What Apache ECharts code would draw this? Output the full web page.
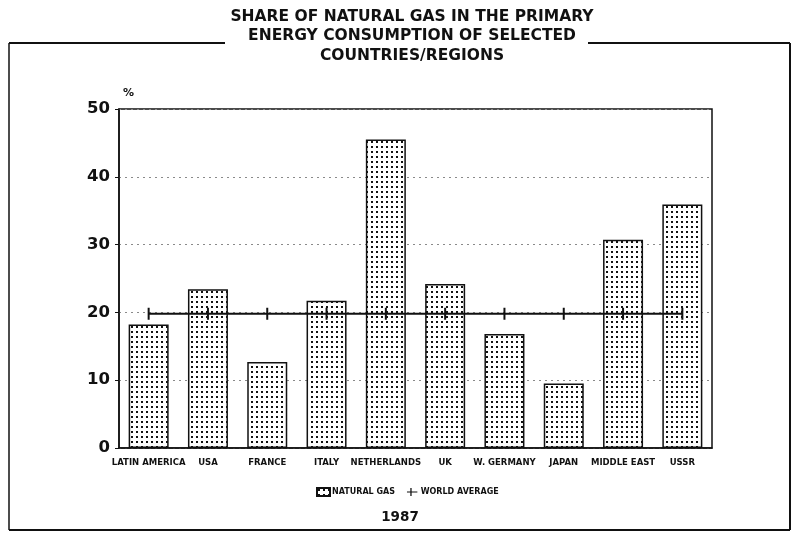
<!DOCTYPE html>
<html>
<head>
<meta charset="utf-8">
<script src="https://cdn.jsdelivr.net/npm/echarts@6/dist/echarts.min.js"></script>
<style>
  html, body { margin: 0; padding: 0; background: #fff; }
  #chart { width: 793px; height: 537px; }
</style>
</head>
<body>
<div id="chart"></div>
<script>
// Share of natural gas in primary energy consumption, 1987 (%)
const categories = ['LATIN AMERICA', 'USA', 'FRANCE', 'ITALY', 'NETHERLANDS', 'UK', 'W. GERMANY', 'JAPAN', 'MIDDLE EAST', 'USSR'];
const naturalGas = [18.2, 23.4, 12.7, 21.7, 45.5, 24.2, 16.8, 9.5, 30.7, 35.9];
const worldAverage = [19.8, 19.8, 19.8, 19.8, 19.8, 19.8, 19.8, 19.8, 19.8, 19.8];
const yTicks = { min: 0, max: 50, interval: 10 };

// dotted screen fill for the bars
function dotPattern() {
  const c = document.createElement('canvas');
  c.width = 5; c.height = 5;
  const g = c.getContext('2d');
  g.fillStyle = '#fff';
  g.fillRect(0, 0, 5, 5);
  g.fillStyle = '#111';
  g.fillRect(1, 1, 2, 2);
  return c;
}
const pattern = { image: dotPattern(), repeat: 'repeat' };

const FONT = 'DejaVu Sans, Liberation Sans, sans-serif';
const chart = echarts.init(document.getElementById('chart'), null, { renderer: 'canvas' });

chart.setOption({
  backgroundColor: '#fff',
  animation: false,
  grid: {
    left: 119, right: 81, top: 109, bottom: 89,
    show: true, borderColor: '#111', borderWidth: 1.5, backgroundColor: 'transparent'
  },
  legend: {
    bottom: 35,
    left: 311,
    itemWidth: 13, itemHeight: 8, itemGap: 12,
    textStyle: { fontFamily: FONT, fontSize: 8, fontWeight: 'bold', color: '#111', padding: [0, 0, 0, -3] },
    data: [
      { name: 'NATURAL GAS', icon: 'rect' },
      { name: 'WORLD AVERAGE', icon: 'path://M0,4.3H4.2V0H5.8V4.3H13V5.7H5.8V10H4.2V5.7H0Z' }
    ]
  },
  graphic: [
    // page frame, broken by the title at the top
    { type: 'line', shape: { x1: 9, y1: 43, x2: 225, y2: 43 }, style: { stroke: '#111', lineWidth: 2 } },
    { type: 'line', shape: { x1: 588, y1: 43, x2: 790, y2: 43 }, style: { stroke: '#111', lineWidth: 2 } },
    { type: 'line', shape: { x1: 9, y1: 43, x2: 9, y2: 530 }, style: { stroke: '#111', lineWidth: 1.5 } },
    { type: 'line', shape: { x1: 790, y1: 43, x2: 790, y2: 530 }, style: { stroke: '#111', lineWidth: 2 } },
    { type: 'line', shape: { x1: 9, y1: 530, x2: 790, y2: 530 }, style: { stroke: '#111', lineWidth: 2 } },
    {
      type: 'text', x: 412, y: 7,
      style: {
        text: 'SHARE OF NATURAL GAS IN THE PRIMARY\nENERGY CONSUMPTION OF SELECTED\nCOUNTRIES/REGIONS',
        textAlign: 'center', fontFamily: FONT, fontSize: 15.5, fontWeight: 'bold', fill: '#111', lineHeight: 19.5
      }
    },
    { type: 'text', left: 123, top: 88, style: { text: '%', fontFamily: FONT, fontSize: 11, fontWeight: 'bold', fill: '#111' } },
    { type: 'text', x: 400, y: 510, style: { text: '1987', textAlign: 'center', fontFamily: FONT, fontSize: 13.5, fontWeight: 'bold', fill: '#111' } }
  ],
  xAxis: {
    type: 'category',
    data: categories,
    boundaryGap: true,
    axisLine: { lineStyle: { color: '#111', width: 1.5 } },
    axisTick: { show: false },
    axisLabel: { interval: 0, margin: 10, fontFamily: FONT, fontSize: 8.5, fontWeight: 'bold', color: '#111' }
  },
  yAxis: {
    type: 'value',
    min: yTicks.min, max: yTicks.max, interval: yTicks.interval,
    axisLine: { show: true, lineStyle: { color: '#111', width: 1.5 } },
    axisTick: { show: true, length: 4, lineStyle: { color: '#111' } },
    axisLabel: { margin: 9, fontFamily: FONT, fontSize: 16.5, fontWeight: 'bold', color: '#111' },
    splitLine: { show: true, lineStyle: { color: '#8a8a8a', type: [2, 4], width: 1 } }
  },
  series: [
    {
      name: 'NATURAL GAS',
      type: 'bar',
      data: naturalGas,
      barWidth: 40,
      itemStyle: { color: pattern, borderColor: '#111', borderWidth: 1.5 }
    },
    {
      name: 'WORLD AVERAGE',
      type: 'line',
      data: worldAverage,
      symbol: 'rect',
      symbolSize: [2, 12],
      itemStyle: { color: '#111' },
      lineStyle: { color: '#111', width: 2 },
      z: 5
    }
  ]
});
</script>
</body>
</html>
